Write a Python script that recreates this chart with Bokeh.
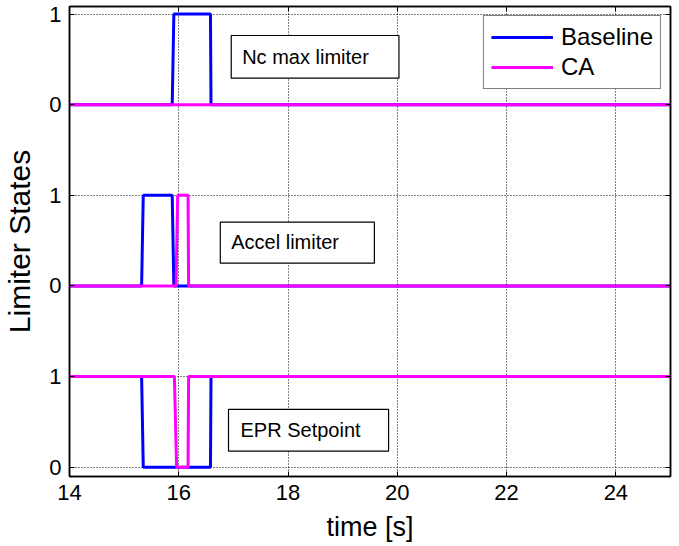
from bokeh.plotting import figure
from bokeh.models import Range1d, LinearAxis, FixedTicker, Legend, LegendItem
from bokeh.core.properties import value
from bokeh.embed import file_html
from bokeh.resources import INLINE

# ---- data (time in s, limiter state 0/1) ----
nc_t_base = [14, 15.88, 15.91, 16.58, 16.59, 25]
nc_base = [0, 0, 1, 1, 0, 0]
nc_t_ca = [14, 25]
nc_ca = [0, 0]

accel_t_base = [14, 15.32, 15.35, 15.88, 15.91, 25]
accel_base = [0, 0, 1, 1, 0, 0]
accel_t_ca = [14, 15.95, 15.98, 16.17, 16.18, 25]
accel_ca = [0, 0, 1, 1, 0, 0]

epr_t_base = [14, 15.32, 15.35, 16.58, 16.59, 25]
epr_base = [1, 1, 0, 0, 1, 1]
epr_t_ca = [14, 15.92, 15.96, 16.17, 16.18, 25]
epr_ca = [1, 1, 0, 0, 1, 1]

band_names = ["Nc max limiter", "Accel limiter", "EPR Setpoint"]
band_offsets = [4, 2, 0]

x_ticks = [14, 16, 18, 20, 22, 24]
y_ticks = [0, 1, 2, 3, 4, 5]
y_tick_labels = ["0", "1", "0", "1", "0", "1"]

# annotation boxes (data coords): left, right, bottom, top, text x, text y
box_left = [16.96, 16.76, 16.91]
box_right = [20.03, 19.58, 19.84]
box_bottom = [4.292, 2.251, 0.177]
box_top = [4.763, 2.703, 0.637]
box_text_x = [17.16, 16.96, 17.13]
box_text_y = [4.53, 2.48, 0.41]

FONT = "Liberation Sans"
BLUE = "#0000ff"
MAGENTA = "#ff00ff"

p = figure(frame_width=601, frame_height=470,
           x_range=Range1d(14, 25), y_range=Range1d(-0.103, 5.083),
           output_backend="svg", toolbar_location=None,
           min_border_left=69, min_border_right=3, min_border_top=6, min_border_bottom=62)
p.background_fill_color = "white"
p.border_fill_color = "white"
p.outline_line_color = "black"
p.outline_line_width = 1.5

# axes styling
for ax in (p.xaxis[0], p.yaxis[0]):
    ax.axis_line_width = 1.5
    ax.major_tick_in = 5
    ax.major_tick_out = 0
    ax.minor_tick_in = 0
    ax.minor_tick_out = 0
    ax.major_label_text_font = FONT
    ax.major_label_text_font_size = "22px"
    ax.major_label_text_color = "black"
    ax.axis_label_text_font = FONT
    ax.axis_label_text_font_style = "normal"
    ax.axis_label_text_color = "black"

p.xaxis.axis_label_text_font_size = "27px"
p.yaxis.axis_label_text_font_size = "30px"
p.xaxis.ticker = FixedTicker(ticks=x_ticks)
p.yaxis.ticker = FixedTicker(ticks=y_ticks)
p.yaxis.major_label_overrides = {t: l for t, l in zip(y_ticks, y_tick_labels)}
p.xaxis.axis_label = "time [s]"
p.yaxis.axis_label = "Limiter States"
p.xaxis.major_label_standoff = 8
p.yaxis.major_label_standoff = 8
p.xaxis.axis_label_standoff = 9
p.yaxis.axis_label_standoff = 10

# box-style axes on top/right with inward ticks
top_ax = LinearAxis(ticker=FixedTicker(ticks=x_ticks), major_tick_in=5, major_tick_out=0,
                    minor_tick_in=0, minor_tick_out=0, major_label_text_font_size="0px",
                    major_label_standoff=0, axis_line_width=1.5)
right_ax = LinearAxis(ticker=FixedTicker(ticks=y_ticks), major_tick_in=5, major_tick_out=0,
                      minor_tick_in=0, minor_tick_out=0, major_label_text_font_size="0px",
                      major_label_standoff=0, axis_line_width=1.5)
p.add_layout(top_ax, "above")
p.add_layout(right_ax, "right")

# grid (MATLAB-style dotted)
for g in (p.xgrid[0], p.ygrid[0]):
    g.grid_line_color = "black"
    g.grid_line_dash = "1 2"
    g.grid_line_width = 1
    g.grid_line_alpha = 1.0
p.xgrid.ticker = FixedTicker(ticks=x_ticks)
p.ygrid.ticker = FixedTicker(ticks=y_ticks)

# lines
series = [
    (nc_t_base, nc_base, nc_t_ca, nc_ca, band_offsets[0]),
    (accel_t_base, accel_base, accel_t_ca, accel_ca, band_offsets[1]),
    (epr_t_base, epr_base, epr_t_ca, epr_ca, band_offsets[2]),
]
base_renderers = []
ca_renderers = []
for tb, yb, tc, yc, off in series:
    rb = p.line(list(tb), [v + off for v in yb], line_color=BLUE, line_width=3)
    base_renderers.append(rb)
for tb, yb, tc, yc, off in series:
    rc = p.line(list(tc), [v + off for v in yc], line_color=MAGENTA, line_width=3)
    ca_renderers.append(rc)

# annotation boxes
p.quad(left=box_left, right=box_right, bottom=box_bottom, top=box_top,
       fill_color="white", line_color="black", line_width=1.2)
p.text(x=box_text_x, y=box_text_y, text=band_names, text_baseline="middle", text_align="left",
       text_font=value(FONT), text_font_size="20px", text_color="black")

legend = Legend(items=[LegendItem(label="Baseline", renderers=[base_renderers[0]]),
                       LegendItem(label="CA", renderers=[ca_renderers[0]])],
                location="top_right")
legend.label_text_font = FONT
legend.label_text_font_size = "24px"
legend.label_text_color = "black"
legend.glyph_width = 62
legend.glyph_height = 24
legend.label_height = 24
legend.label_standoff = 8
legend.padding = 7
legend.spacing = 2
legend.margin = 9
legend.border_line_color = "black"
legend.border_line_width = 1.5
legend.background_fill_alpha = 1
p.add_layout(legend)

open("out.html", "w").write(file_html(p, INLINE))
